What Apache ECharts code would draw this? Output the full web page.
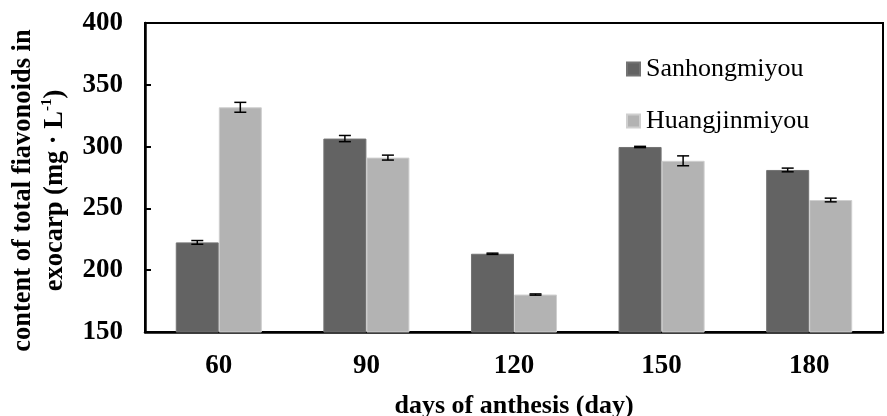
<!DOCTYPE html>
<html>
<head>
<meta charset="utf-8">
<script src="https://cdn.jsdelivr.net/npm/echarts@6/dist/echarts.min.js"></script>
<style>
html,body{margin:0;padding:0;background:#fff;}
#chart{width:887px;height:416px;}
</style>
</head>
<body>
<div id="chart"></div>
<script>
const categories = ['60', '90', '120', '150', '180'];
const seriesNames = ['Sanhongmiyou', 'Huangjinmiyou'];
const sanhongValues = [222.5, 306.5, 213.3, 299.7, 281.1];
const sanhongErrors = [1.5, 2.5, 0.5, 0.5, 1.5];
const huangjinValues = [331.8, 291.1, 180.3, 288.5, 256.8];
const huangjinErrors = [4, 2, 0.5, 4, 1.5];
const yTicks = [150, 200, 250, 300, 350, 400];

const FONT = '"Liberation Serif", "Times New Roman", serif';
const barCategoryGap = 0.417;

function errorSeries(values, errors, side) {
  return {
    type: 'custom',
    silent: true,
    z: 10,
    data: values.map((v, i) => [i, v - errors[i], v + errors[i]]),
    renderItem: function (params, api) {
      const idx = api.value(0);
      const catW = api.size([1, 0])[0];
      const bw = catW * (1 - barCategoryGap) / 2;
      const lo = api.coord([idx, api.value(1)]);
      const hi = api.coord([idx, api.value(2)]);
      const x = lo[0] + side * bw / 2;
      const cap = 6;
      const style = { stroke: '#000', lineWidth: 1.5 };
      return {
        type: 'group',
        children: [
          { type: 'line', shape: { x1: x, y1: lo[1], x2: x, y2: hi[1] }, style: style },
          { type: 'line', shape: { x1: x - cap, y1: lo[1], x2: x + cap, y2: lo[1] }, style: style },
          { type: 'line', shape: { x1: x - cap, y1: hi[1], x2: x + cap, y2: hi[1] }, style: style }
        ]
      };
    }
  };
}

const chart = echarts.init(document.getElementById('chart'), null, { renderer: 'canvas' });
chart.setOption({
  animation: false,
  backgroundColor: '#fff',
  textStyle: { fontFamily: FONT },
  grid: {
    left: 145, right: 4, top: 23, bottom: 84,
    containLabel: false, outerBoundsMode: 'none',
    show: true, borderColor: '#000', borderWidth: 2, backgroundColor: 'transparent'
  },
  legend: {
    orient: 'vertical',
    left: 621, top: 51,
    itemWidth: 13, itemHeight: 13, itemGap: 26,
    icon: 'rect',
    data: seriesNames,
    textStyle: { fontFamily: FONT, fontSize: 26, color: '#000', padding: [0, 0, 0, 1] }
  },
  xAxis: {
    type: 'category',
    data: categories,
    axisLine: { lineStyle: { color: '#000', width: 2.5 } },
    axisTick: { show: false },
    axisLabel: { fontFamily: FONT, fontSize: 27, fontWeight: 'bold', color: '#000', margin: 21 },
    name: 'days of anthesis (day)',
    nameLocation: 'middle',
    nameGap: 61,
    nameTextStyle: { fontFamily: FONT, fontSize: 26, fontWeight: 'bold', color: '#000' }
  },
  yAxis: {
    type: 'value',
    min: yTicks[0], max: yTicks[yTicks.length - 1], interval: 50,
    splitLine: { show: false },
    axisLine: { show: true, lineStyle: { color: '#000', width: 2.5 } },
    axisTick: { show: true, inside: true, length: 6, lineStyle: { color: '#000', width: 2 } },
    axisLabel: { fontFamily: FONT, fontSize: 27, fontWeight: 'bold', color: '#000', margin: 22 },
    name: 'content of total fiavonoids in\nexocarp (mg · L{sup|-1})',
    nameLocation: 'middle',
    nameGap: 70,
    nameTextStyle: {
      fontFamily: FONT, fontSize: 26.5, fontWeight: 'bold', color: '#000', lineHeight: 32,
      padding: [0, 26, 0, 0],
      rich: {
        sup: { fontFamily: FONT, fontSize: 15, fontWeight: 'bold', color: '#000', verticalAlign: 'top', lineHeight: 32, padding: [0, 0, 12, 0] }
      }
    }
  },
  series: [
    {
      name: seriesNames[0], type: 'bar', data: sanhongValues,
      barGap: '0%', barCategoryGap: (barCategoryGap * 100) + '%',
      itemStyle: { color: '#636363', borderColor: '#737373', borderWidth: 1 }
    },
    {
      name: seriesNames[1], type: 'bar', data: huangjinValues,
      barGap: '0%', barCategoryGap: (barCategoryGap * 100) + '%',
      itemStyle: { color: '#b3b3b3', borderColor: '#cfcfcf', borderWidth: 1 }
    },
    errorSeries(sanhongValues, sanhongErrors, -1),
    errorSeries(huangjinValues, huangjinErrors, 1)
  ]
});
</script>
</body>
</html>
